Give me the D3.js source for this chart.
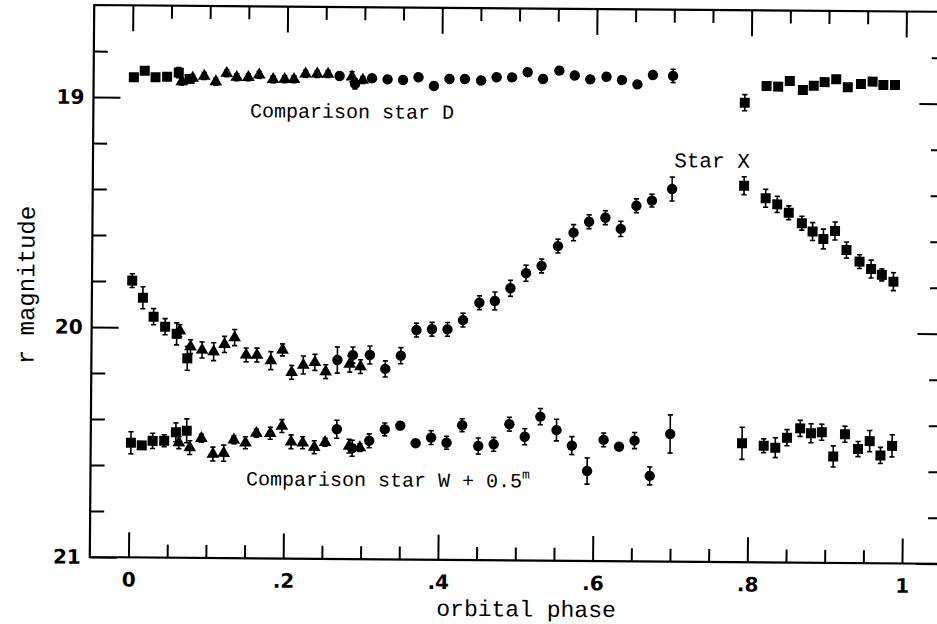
<!DOCTYPE html>
<html><head><meta charset="utf-8">
<script src="https://cdn.jsdelivr.net/npm/d3@7"></script>
<style>body{margin:0;background:#fff;overflow:hidden}</style>
</head><body>
<svg id="c" width="937" height="624"></svg>
<script>
// ---- axis ticks ----
const xMajorTicks = [0, 0.2, 0.4, 0.6, 0.8, 1];
const xTickLabels = ["0", ".2", ".4", ".6", ".8", "1"];
const xMinorTicks = [0.05, 0.1, 0.15, 0.25, 0.3, 0.35, 0.45, 0.5, 0.55, 0.65, 0.7, 0.75, 0.85, 0.9, 0.95];
const yMajorTicks = [19, 20, 21];
const yTickLabels = ["19", "20", "21"];
const yMinorTicks = [18.8, 19.2, 19.4, 19.6, 19.8, 20.2, 20.4, 20.6, 20.8];

// ---- orbital phases of the four observing sets ----
const phaseSqA = [0.002, 0.016, 0.030, 0.045, 0.060, 0.074];
const phaseTri = [0.064, 0.078, 0.093, 0.108, 0.122, 0.135, 0.150, 0.164, 0.182, 0.197, 0.209, 0.224, 0.239, 0.253, 0.284, 0.298];
const phaseCirc = [0.268, 0.288, 0.310, 0.330, 0.350, 0.370, 0.390, 0.410, 0.430, 0.451, 0.471, 0.491, 0.511, 0.531, 0.552, 0.572, 0.592, 0.613, 0.633, 0.653, 0.673, 0.699];
const phaseSqB = [0.792, 0.820, 0.835, 0.850, 0.867, 0.881, 0.895, 0.910, 0.925, 0.942, 0.957, 0.971, 0.986];

// ---- Comparison star D ----
const dSqA = [18.913, 18.884, 18.912, 18.909, 18.891, 18.918];
const dTri = [18.930, 18.914, 18.905, 18.929, 18.892, 18.909, 18.909, 18.898, 18.917, 18.916, 18.916, 18.892, 18.892, 18.892, 18.903, 18.917];
const dCirc = [18.900, 18.934, 18.909, 18.913, 18.915, 18.903, 18.940, 18.909, 18.909, 18.915, 18.900, 18.900, 18.877, 18.906, 18.869, 18.890, 18.906, 18.894, 18.908, 18.926, 18.885, 18.888];
const dSqB = [19.002, 18.929, 18.931, 18.906, 18.945, 18.926, 18.910, 18.897, 18.931, 18.917, 18.906, 18.920, 18.920];
const dErrSqA = [0.015, 0.015, 0.015, 0.015, 0.022, 0.015];
const dErrTri = [0.015, 0.015, 0.015, 0.015, 0.015, 0.015, 0.015, 0.015, 0.015, 0.015, 0.015, 0.015, 0.015, 0.015, 0.022, 0.015];
const dErrCirc = [0.015, 0.022, 0.015, 0.015, 0.015, 0.015, 0.015, 0.015, 0.015, 0.015, 0.015, 0.015, 0.015, 0.015, 0.015, 0.015, 0.015, 0.015, 0.015, 0.015, 0.015, 0.029];
const dErrSqB = [0.035, 0.015, 0.015, 0.015, 0.015, 0.015, 0.015, 0.015, 0.015, 0.015, 0.015, 0.015, 0.015];

// ---- Star X ----
const xSqA = [19.797, 19.871, 19.953, 19.996, 20.027, 20.133];
const xTri = [20.013, 20.082, 20.096, 20.103, 20.071, 20.041, 20.116, 20.116, 20.140, 20.093, 20.190, 20.158, 20.146, 20.186, 20.152, 20.163];
const xCirc = [20.135, 20.113, 20.112, 20.172, 20.114, 20.002, 19.998, 19.998, 19.957, 19.881, 19.873, 19.817, 19.751, 19.719, 19.632, 19.573, 19.525, 19.507, 19.555, 19.454, 19.431, 19.380];
const xSqB = [19.363, 19.417, 19.443, 19.479, 19.524, 19.560, 19.592, 19.557, 19.639, 19.689, 19.721, 19.746, 19.775];
const xErrSqA = [0.030, 0.048, 0.035, 0.035, 0.048, 0.052];
const xErrTri = [0.026, 0.030, 0.035, 0.039, 0.035, 0.035, 0.030, 0.030, 0.039, 0.026, 0.030, 0.039, 0.035, 0.030, 0.035, 0.030];
const xErrCirc = [0.057, 0.035, 0.039, 0.035, 0.035, 0.030, 0.030, 0.030, 0.030, 0.030, 0.039, 0.035, 0.035, 0.030, 0.030, 0.035, 0.030, 0.030, 0.033, 0.030, 0.028, 0.052];
const xErrSqB = [0.039, 0.039, 0.035, 0.030, 0.030, 0.039, 0.043, 0.039, 0.035, 0.030, 0.039, 0.026, 0.039];

// ---- Comparison star W + 0.5 mag ----
const wSqA = [20.502, 20.513, 20.493, 20.492, 20.455, 20.448];
const wTri = [20.500, 20.521, 20.480, 20.548, 20.544, 20.486, 20.498, 20.456, 20.456, 20.424, 20.492, 20.496, 20.515, 20.493, 20.509, 20.515];
const wCirc = [20.436, 20.518, 20.485, 20.435, 20.418, 20.494, 20.469, 20.491, 20.414, 20.504, 20.496, 20.408, 20.462, 20.374, 20.432, 20.499, 20.609, 20.473, 20.502, 20.475, 20.628, 20.445];
const wSqB = [20.483, 20.493, 20.501, 20.457, 20.416, 20.437, 20.432, 20.537, 20.440, 20.504, 20.469, 20.531, 20.489];
const wErrSqA = [0.048, 0.013, 0.033, 0.026, 0.041, 0.052];
const wErrTri = [0.026, 0.030, 0.017, 0.030, 0.035, 0.017, 0.026, 0.017, 0.026, 0.028, 0.030, 0.026, 0.028, 0.017, 0.030, 0.017];
const wErrCirc = [0.039, 0.035, 0.030, 0.028, 0.017, 0.013, 0.030, 0.028, 0.028, 0.035, 0.030, 0.030, 0.035, 0.035, 0.047, 0.039, 0.057, 0.030, 0.013, 0.035, 0.039, 0.083];
const wErrSqB = [0.070, 0.030, 0.043, 0.035, 0.035, 0.041, 0.035, 0.046, 0.035, 0.033, 0.046, 0.035, 0.048];

// ---- layout ----
const L = 89.8, R = 940.7, T = 5, B = 557;
const x = d3.scaleLinear().domain([-0.05, 1.05]).range([L, R]);
const y = d3.scaleLinear().domain([18.6, 21]).range([T, B]);

const svg = d3.select("#c");
const g = svg.append("g").attr("transform", `rotate(0.458, ${L}, ${B})`);

const sets = [
  {shape: d3.symbolSquare, size: 100, phase: phaseSqA, stars: [[dSqA, dErrSqA], [xSqA, xErrSqA], [wSqA, wErrSqA]]},
  {shape: d3.symbolTriangle, size: 70, phase: phaseTri, stars: [[dTri, dErrTri], [xTri, xErrTri], [wTri, wErrTri]]},
  {shape: d3.symbolCircle, size: 85, phase: phaseCirc, stars: [[dCirc, dErrCirc], [xCirc, xErrCirc], [wCirc, wErrCirc]]},
  {shape: d3.symbolSquare, size: 100, phase: phaseSqB, stars: [[dSqB, dErrSqB], [xSqB, xErrSqB], [wSqB, wErrSqB]]}
];
const pts = [];
sets.forEach(s => s.stars.forEach(([mags, errs]) => mags.forEach((m, i) =>
  pts.push({p: s.phase[i], m, e: errs[i], shape: s.shape, size: s.size}))));

// frame
const frame = g.append("g").attr("stroke", "#000").attr("stroke-width", 2.2).attr("fill", "none");
frame.append("path").attr("d", `M${R},${T}H${L}V${B}H${R}V${T}`).attr("stroke-linecap", "square");

function styleAxis(sel) {
  sel.select(".domain").remove();
  sel.selectAll(".tick line").attr("stroke", "#000").attr("stroke-width", 2);
  sel.selectAll("text").attr("font-family", "'DejaVu Sans', sans-serif").attr("font-weight", "bold")
    .attr("font-size", 20).attr("fill", "#000");
}
// bottom
g.append("g").attr("transform", `translate(0,${B})`)
  .call(d3.axisBottom(x).tickValues(xMajorTicks).tickFormat((d, i) => xTickLabels[i]).tickSizeInner(-25).tickSizeOuter(0).tickPadding(15))
  .call(styleAxis);
g.append("g").attr("transform", `translate(0,${B})`)
  .call(d3.axisBottom(x).tickValues(xMinorTicks).tickFormat("").tickSizeInner(-13).tickSizeOuter(0)).call(styleAxis);
// top
g.append("g").attr("transform", `translate(0,${T})`)
  .call(d3.axisTop(x).tickValues(xMajorTicks).tickFormat("").tickSizeInner(-26).tickSizeOuter(0)).call(styleAxis);
g.append("g").attr("transform", `translate(0,${T})`)
  .call(d3.axisTop(x).tickValues(xMinorTicks).tickFormat("").tickSizeInner(-13).tickSizeOuter(0)).call(styleAxis);
// left
g.append("g").attr("transform", `translate(${L},0)`)
  .call(d3.axisLeft(y).tickValues(yMajorTicks).tickFormat((d, i) => yTickLabels[i]).tickSizeInner(-27).tickSizeOuter(0).tickPadding(9))
  .call(styleAxis);
g.append("g").attr("transform", `translate(${L},0)`)
  .call(d3.axisLeft(y).tickValues(yMinorTicks).tickFormat("").tickSizeInner(-14).tickSizeOuter(0)).call(styleAxis);
// right
g.append("g").attr("transform", `translate(${R},0)`)
  .call(d3.axisRight(y).tickValues(yMajorTicks).tickFormat("").tickSizeInner(-25).tickSizeOuter(0)).call(styleAxis);
g.append("g").attr("transform", `translate(${R},0)`)
  .call(d3.axisRight(y).tickValues(yMinorTicks).tickFormat("").tickSizeInner(-13).tickSizeOuter(0)).call(styleAxis);

// error bars
const eb = g.append("g").attr("stroke", "#000").attr("stroke-width", 1.6).attr("fill", "none");
eb.selectAll("path").data(pts).join("path")
  .attr("d", d => {
    const cx = x(d.p), y1 = y(d.m - d.e), y2 = y(d.m + d.e);
    return `M${cx},${y1}V${y2}M${cx - 2.6},${y1}H${cx + 2.6}M${cx - 2.6},${y2}H${cx + 2.6}`;
  });
// markers
g.append("g").selectAll("path").data(pts).join("path")
  .attr("transform", d => `translate(${x(d.p)},${y(d.m)})`)
  .attr("d", d => d3.symbol().type(d.shape).size(d.size)())
  .attr("fill", "#000");

// labels
const mono = "'Liberation Mono', 'DejaVu Sans Mono', monospace";
g.append("text").attr("x", 246.5).attr("y", 116).attr("font-family", mono).attr("font-size", 20)
  .text("Comparison star D");
g.append("text").attr("x", 671).attr("y", 162.5).attr("font-family", mono).attr("font-size", 21)
  .text("Star X");
const wl = g.append("text").attr("x", 245.4).attr("y", 484).attr("font-family", mono).attr("font-size", 20);
wl.append("tspan").text("Comparison star W + 0.5");
wl.append("tspan").attr("font-size", 13).attr("dy", -9).text("m");

g.append("text").attr("x", 526.5).attr("y", 613).attr("text-anchor", "middle")
  .attr("font-family", mono).attr("font-size", 23).text("orbital phase");
g.append("text").attr("transform", "translate(32,285.5) rotate(-90)").attr("text-anchor", "middle")
  .attr("font-family", mono).attr("font-size", 24).text("r magnitude");
</script>
</body></html>
